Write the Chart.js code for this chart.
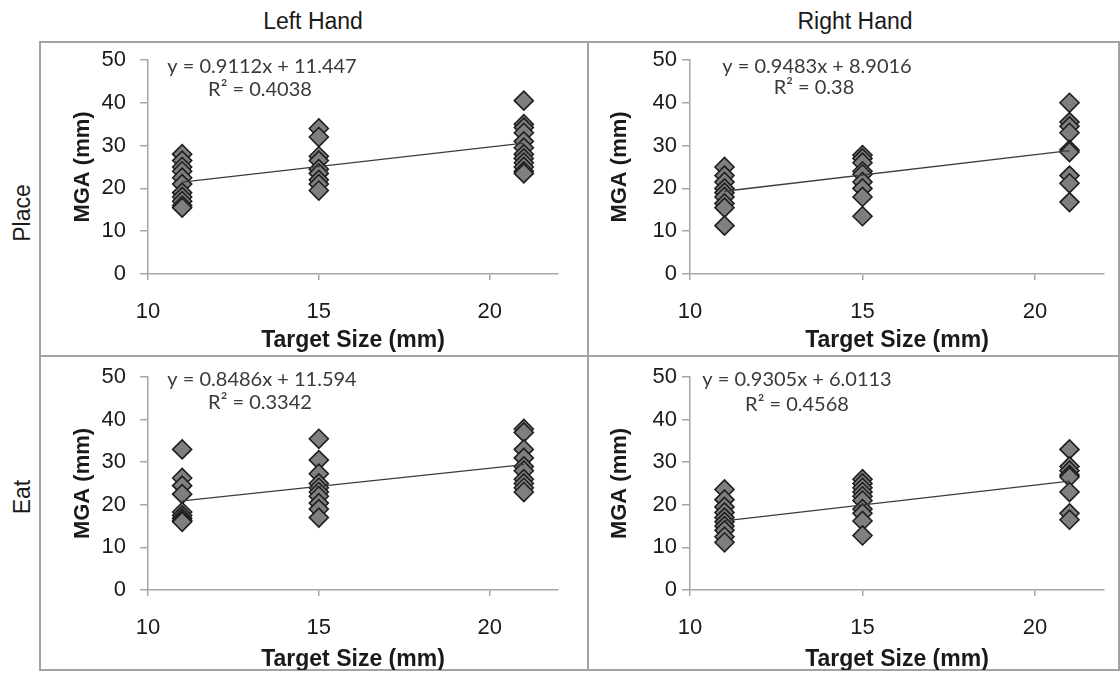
<!DOCTYPE html>
<html>
<head>
<meta charset="utf-8">
<title>MGA vs Target Size</title>
<script src="https://cdn.jsdelivr.net/npm/chart.js@4.4.0/dist/chart.umd.min.js"></script>
<style>
  html, body { margin: 0; padding: 0; background: #ffffff; }
  #fig { position: relative; width: 1120px; height: 675px; overflow: hidden;
         font-family: "Liberation Sans", Arial, sans-serif; color: #1a1a1a; }
  .cell { position: absolute; }
  .cell canvas { display: block; }
  .rule { position: absolute; background: #a3a3a3; }
  .colhead { position: absolute; top: 8px; width: 300px; text-align: center; font-size: 23px; }
  .rowhead { position: absolute; width: 120px; height: 26px; line-height: 26px; text-align: center;
             font-size: 23px; transform: rotate(-90deg); }
</style>
</head>
<body>
<div id="fig">
  <div class="colhead" style="left:163px;">Left Hand</div>
  <div class="colhead" style="left:705px;">Right Hand</div>
  <div class="rowhead" style="left:-38px; top:200px;">Place</div>
  <div class="rowhead" style="left:-38px; top:484px;">Eat</div>

  <div class="rule" style="left:40px; top:41px; width:1080px; height:2px;"></div>
  <div class="rule" style="left:40px; top:355px; width:1080px; height:2px;"></div>
  <div class="rule" style="left:40px; top:669px; width:1080px; height:2px;"></div>
  <div class="rule" style="left:39px; top:41px; width:2px; height:630px;"></div>
  <div class="rule" style="left:587px; top:41px; width:2px; height:630px;"></div>
  <div class="rule" style="left:1118px; top:41px; width:2px; height:630px;"></div>

  <div class="cell" style="left:40px; top:42px;"><canvas id="placeLeft" width="548" height="314"></canvas></div>
  <div class="cell" style="left:588px; top:42px;"><canvas id="placeRight" width="532" height="314"></canvas></div>
  <div class="cell" style="left:40px; top:356px;"><canvas id="eatLeft" width="548" height="314"></canvas></div>
  <div class="cell" style="left:588px; top:356px;"><canvas id="eatRight" width="532" height="314"></canvas></div>
</div>

<script>
// Target sizes (mm) tested, and axis ticks
const targetSizes = [11, 15, 21];
const xTicks = [10, 15, 20];
const yTicks = [0, 10, 20, 30, 40, 50];

// Maximum grip aperture (mm) per target size — Place task
const placeLeft11 = [28, 26.5, 25, 24, 22.5, 21, 19, 18, 17, 16, 15.5];
const placeLeft15 = [34, 32, 27.5, 26.5, 24.5, 23.5, 22, 21, 19.5];
const placeLeft21 = [40.5, 35, 34.2, 33, 31, 29.5, 28, 27, 26, 25, 24, 23.5];
const placeRight11 = [25, 23, 21.5, 20, 19, 18, 16.5, 15.5, 11.3];
const placeRight15 = [27.8, 27, 26, 24, 23.3, 21.5, 20, 18, 13.5];
const placeRight21 = [40, 35.5, 34.5, 33, 29, 28.5, 23, 21.2, 16.8];

// Maximum grip aperture (mm) per target size — Eat task
const eatLeft11 = [33, 26.3, 24.5, 22.5, 18.3, 17.5, 16.8, 16.3, 16];
const eatLeft15 = [35.5, 30.5, 27.3, 25, 24, 23, 22, 20.4, 19, 17];
const eatLeft21 = [37.8, 37, 33, 31, 29, 28, 26, 25, 24, 23];
const eatRight11 = [23.6, 21.2, 19.5, 18.2, 17, 16, 15, 14, 12.5, 11.2];
const eatRight15 = [26, 25, 24, 23, 22, 21, 19, 18, 16.2, 12.8];
const eatRight21 = [33, 29, 28, 27, 26.5, 23, 18, 16.5];

// Linear fits (slope, intercept, R²) shown on each panel
const fitSlopes = [0.9112, 0.9483, 0.8486, 0.9305];
const fitIntercepts = [11.447, 8.9016, 11.594, 6.0113];
const fitR2 = ['0.4038', '0.38', '0.3342', '0.4568'];

// Panel layout: canvas id, data groups, and frame geometry within each cell
const panels = [
  { id: 'placeLeft',  groups: [placeLeft11, placeLeft15, placeLeft21],   fit: 0,
    yW: 108, padR: 30, padT: 18, xH: 82, yTitlePad: 30, yTickPad: 14, xTitlePad: 2,
    eqX: 222, eqY: 25, r2X: 220, r2Y: 48 },
  { id: 'placeRight', groups: [placeRight11, placeRight15, placeRight21], fit: 1,
    yW: 102, padR: 16, padT: 18, xH: 82, yTitlePad: 19, yTickPad: 5, xTitlePad: 2,
    eqX: 229, eqY: 25, r2X: 226, r2Y: 46 },
  { id: 'eatLeft',    groups: [eatLeft11, eatLeft15, eatLeft21],         fit: 2,
    yW: 108, padR: 30, padT: 21, xH: 80, yTitlePad: 30, yTickPad: 14, xTitlePad: -3,
    eqX: 222, eqY: 24, r2X: 220, r2Y: 47 },
  { id: 'eatRight',   groups: [eatRight11, eatRight15, eatRight21],       fit: 3,
    yW: 102, padR: 16, padT: 21, xH: 80, yTitlePad: 19, yTickPad: 5, xTitlePad: -3,
    eqX: 209, eqY: 24, r2X: 209, r2Y: 49 }
];

const AXIS_GREY = '#a6a6a6';
const TEXT = '#1a1a1a';
const SANS = '"Liberation Sans", Arial, sans-serif';

// Draws the regression equation and R² text
const fitLabel = {
  id: 'fitLabel',
  afterDatasetsDraw(chart, args, opts) {
    const ctx = chart.ctx;
    const k = opts.fit;
    ctx.save();
    ctx.fillStyle = '#3a3a3a';
    ctx.font = '20px Lato, "Liberation Sans", sans-serif';
    ctx.textAlign = 'center';
    ctx.textBaseline = 'middle';
    ctx.fillText('y = ' + fitSlopes[k] + 'x + ' + fitIntercepts[k], opts.eqX, opts.eqY);
    ctx.fillText('R\u00B2 = ' + fitR2[k], opts.r2X, opts.r2Y);
    ctx.restore();
  }
};

panels.forEach(p => {
  const points = [];
  p.groups.forEach((vals, i) => vals.forEach(v => points.push({ x: targetSizes[i], y: v })));
  const m = fitSlopes[p.fit], b = fitIntercepts[p.fit];
  const xLo = targetSizes[0], xHi = targetSizes[targetSizes.length - 1];
  const trend = [{ x: xLo, y: m * xLo + b }, { x: xHi, y: m * xHi + b }];

  new Chart(document.getElementById(p.id), {
    type: 'scatter',
    data: {
      datasets: [
        { type: 'line', data: trend, borderColor: '#3c3c3c', borderWidth: 1.3,
          pointRadius: 0, fill: false, order: 0, clip: false },
        { data: points, pointStyle: 'rectRot', pointRadius: 9.5,
          backgroundColor: '#7f7f7f', borderColor: '#1e1e1e', borderWidth: 1.6,
          order: 1, clip: false }
      ]
    },
    options: {
      responsive: false,
      animation: false,
      events: [],
      layout: { padding: { left: 0, right: p.padR, top: p.padT, bottom: 0 } },
      plugins: {
        legend: { display: false },
        tooltip: { enabled: false },
        fitLabel: { fit: p.fit, eqX: p.eqX, eqY: p.eqY, r2X: p.r2X, r2Y: p.r2Y }
      },
      scales: {
        x: {
          type: 'linear', min: 10, max: 22,
          afterBuildTicks: s => { s.ticks = xTicks.map(v => ({ value: v })); },
          afterFit: s => { s.height = p.xH; s.paddingLeft = 0; s.paddingRight = 0; },
          grid: { drawOnChartArea: false, drawTicks: true, tickLength: 6, color: AXIS_GREY, lineWidth: 1.5 },
          border: { display: true, color: AXIS_GREY, width: 1.5 },
          ticks: { font: { family: SANS, size: 22 }, color: TEXT,
                   padding: 19, maxRotation: 0, autoSkip: false },
          title: { display: true, text: 'Target Size (mm)', color: TEXT,
                   font: { family: SANS, size: 23, weight: 'bold' },
                   padding: { top: 0, bottom: p.xTitlePad } }
        },
        y: {
          type: 'linear', min: 0, max: 50,
          afterBuildTicks: s => { s.ticks = yTicks.map(v => ({ value: v })); },
          afterFit: s => { s.width = p.yW; s.paddingTop = 0; s.paddingBottom = 0; },
          grid: { drawOnChartArea: false, drawTicks: true, tickLength: 8, color: AXIS_GREY, lineWidth: 1.5 },
          border: { display: true, color: AXIS_GREY, width: 1.5 },
          ticks: { font: { family: SANS, size: 22 }, color: TEXT,
                   padding: p.yTickPad, autoSkip: false },
          title: { display: true, text: 'MGA (mm)', color: TEXT,
                   font: { family: SANS, size: 22, weight: 'bold' },
                   padding: { top: p.yTitlePad, bottom: 0 } }
        }
      }
    },
    plugins: [fitLabel]
  });
});
</script>
</body>
</html>
